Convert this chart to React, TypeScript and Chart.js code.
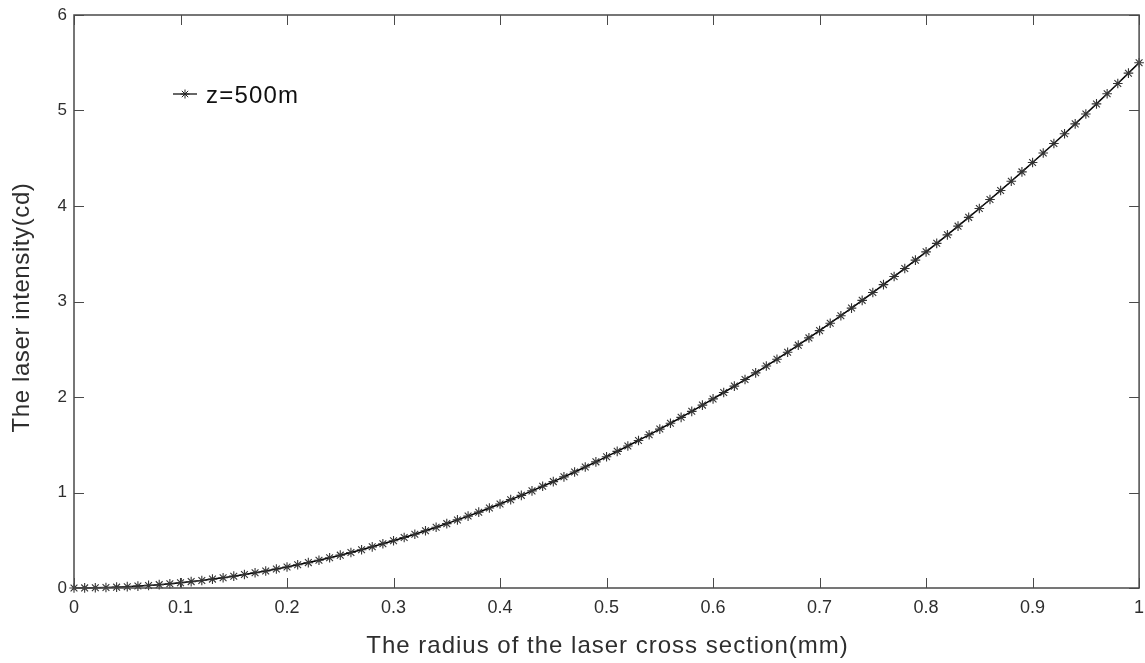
import React, { useEffect, useRef } from "react";
import { Chart, registerables } from "chart.js";
Chart.register(...registerables);

const radiusMm = [
  0, 0.01, 0.02, 0.03, 0.04, 0.05, 0.06, 0.07, 0.08, 0.09,
  0.1, 0.11, 0.12, 0.13, 0.14, 0.15, 0.16, 0.17, 0.18, 0.19,
  0.2, 0.21, 0.22, 0.23, 0.24, 0.25, 0.26, 0.27, 0.28, 0.29,
  0.3, 0.31, 0.32, 0.33, 0.34, 0.35, 0.36, 0.37, 0.38, 0.39,
  0.4, 0.41, 0.42, 0.43, 0.44, 0.45, 0.46, 0.47, 0.48, 0.49,
  0.5, 0.51, 0.52, 0.53, 0.54, 0.55, 0.56, 0.57, 0.58, 0.59,
  0.6, 0.61, 0.62, 0.63, 0.64, 0.65, 0.66, 0.67, 0.68, 0.69,
  0.7, 0.71, 0.72, 0.73, 0.74, 0.75, 0.76, 0.77, 0.78, 0.79,
  0.8, 0.81, 0.82, 0.83, 0.84, 0.85, 0.86, 0.87, 0.88, 0.89,
  0.9, 0.91, 0.92, 0.93, 0.94, 0.95, 0.96, 0.97, 0.98, 0.99,
  1.0,
];

const intensityZ500 = [
  0, 0.001, 0.002, 0.005, 0.009, 0.014, 0.02, 0.027, 0.035, 0.045,
  0.055, 0.067, 0.079, 0.093, 0.108, 0.124, 0.141, 0.159, 0.178, 0.199,
  0.22, 0.243, 0.266, 0.291, 0.317, 0.344, 0.372, 0.401, 0.431, 0.463,
  0.495, 0.529, 0.563, 0.599, 0.636, 0.674, 0.713, 0.753, 0.794, 0.837,
  0.88, 0.925, 0.97, 1.017, 1.065, 1.114, 1.164, 1.215, 1.267, 1.321,
  1.375, 1.431, 1.487, 1.545, 1.604, 1.664, 1.725, 1.787, 1.85, 1.915,
  1.98, 2.047, 2.114, 2.183, 2.253, 2.324, 2.396, 2.469, 2.543, 2.619,
  2.695, 2.773, 2.851, 2.931, 3.012, 3.094, 3.177, 3.261, 3.346, 3.433,
  3.52, 3.609, 3.698, 3.789, 3.881, 3.974, 4.068, 4.163, 4.259, 4.357,
  4.455, 4.555, 4.655, 4.757, 4.86, 4.964, 5.069, 5.175, 5.282, 5.391,
  5.5,
];

const xTicks = [0, 0.1, 0.2, 0.3, 0.4, 0.5, 0.6, 0.7, 0.8, 0.9, 1];
const yTicks = [0, 1, 2, 3, 4, 5, 6];
const legendLabel = "z=500m";
const xTitle = "The radius of the laser cross section(mm)";
const yTitle = "The laser intensity(cd)";

const FONT = "'Liberation Sans', Arial, sans-serif";
const AXIS_COLOR = "#4a4a4a";
const TEXT_COLOR = "#2e2e2e";

const framePlugin = {
  id: "matlabFrame",
  afterDraw(chart: any) {
    const { ctx, chartArea } = chart;
    const { left, right, top, bottom } = chartArea;
    const xs = chart.scales.x;
    const ys = chart.scales.y;
    ctx.save();
    ctx.strokeStyle = AXIS_COLOR;
    ctx.lineWidth = 1.5;
    ctx.strokeRect(left, top, right - left, bottom - top);
    ctx.lineWidth = 1;
    const tl = 10;
    ctx.beginPath();
    xTicks.forEach((v) => {
      const px = Math.round(xs.getPixelForValue(v)) + 0.5;
      ctx.moveTo(px, bottom);
      ctx.lineTo(px, bottom - tl);
      ctx.moveTo(px, top);
      ctx.lineTo(px, top + tl);
    });
    yTicks.forEach((v) => {
      const py = Math.round(ys.getPixelForValue(v)) + 0.5;
      ctx.moveTo(left, py);
      ctx.lineTo(left + tl, py);
      ctx.moveTo(right, py);
      ctx.lineTo(right - tl, py);
    });
    ctx.stroke();

    // axis titles
    ctx.fillStyle = TEXT_COLOR;
    ctx.font = `24px ${FONT}`;
    (ctx as any).letterSpacing = "1px";
    ctx.textAlign = "center";
    ctx.textBaseline = "alphabetic";
    ctx.fillText(xTitle, (left + right) / 2 + 1, 653);
    ctx.save();
    ctx.translate(29, (top + bottom) / 2 + 6);
    ctx.rotate(-Math.PI / 2);
    (ctx as any).letterSpacing = "0.6px";
    ctx.fillText(yTitle, 0, 0);
    ctx.restore();

    // legend
    const lx1 = 173, lx2 = 197, ly = 94;
    ctx.strokeStyle = "#000";
    ctx.lineWidth = 1.2;
    ctx.beginPath();
    ctx.moveTo(lx1, ly);
    ctx.lineTo(lx2, ly);
    ctx.stroke();
    ctx.strokeStyle = "#222";
    ctx.lineWidth = 1;
    const cx = (lx1 + lx2) / 2, r = 4.5;
    ctx.beginPath();
    for (let i = 0; i < 4; i++) {
      const a = (i * Math.PI) / 4;
      ctx.moveTo(cx - r * Math.cos(a), ly - r * Math.sin(a));
      ctx.lineTo(cx + r * Math.cos(a), ly + r * Math.sin(a));
    }
    ctx.stroke();
    ctx.fillStyle = "#111";
    ctx.font = `24px ${FONT}`;
    (ctx as any).letterSpacing = "1.2px";
    ctx.textBaseline = "alphabetic";
    ctx.textAlign = "left";
    ctx.fillText(legendLabel, 206, 103);
    ctx.restore();
  },
};

export default function App() {
  const ref = useRef<HTMLCanvasElement | null>(null);
  useEffect(() => {
    if (!ref.current) return;
    const chart = new Chart(ref.current, {
      type: "scatter",
      data: {
        datasets: [
          {
            label: legendLabel,
            data: radiusMm.map((x, i) => ({ x, y: intensityZ500[i] })),
            showLine: true,
            borderColor: "#000",
            borderWidth: 1.5,
            pointStyle: "star",
            pointRadius: 4.8,
            pointBorderWidth: 1.1,
            pointBorderColor: "#333",
            pointBackgroundColor: "#333",
            clip: false as any,
          },
        ],
      },
      options: {
        animation: false,
        responsive: true,
        maintainAspectRatio: false,
        layout: { padding: { top: 15, right: 3, left: 0, bottom: 0 } },
        plugins: { legend: { display: false }, tooltip: { enabled: false } },
        scales: {
          x: {
            type: "linear",
            min: 0,
            max: 1,
            afterFit: (s: any) => {
              s.height = 75;
              s.paddingLeft = 0;
              s.paddingRight = 0;
            },
            afterBuildTicks: (s: any) => {
              s.ticks = xTicks.map((v) => ({ value: v }));
            },
            grid: { display: false, drawTicks: false },
            border: { display: false },
            ticks: {
              padding: 9,
              color: TEXT_COLOR,
              font: { family: FONT, size: 18 },
              maxRotation: 0,
              callback: (v: any) => String(v),
            },
            title: { display: false },
          },
          y: {
            type: "linear",
            min: 0,
            max: 6,
            afterFit: (s: any) => {
              s.width = 74;
              s.paddingTop = 0;
              s.paddingBottom = 0;
            },
            afterBuildTicks: (s: any) => {
              s.ticks = yTicks.map((v) => ({ value: v }));
            },
            grid: { display: false, drawTicks: false },
            border: { display: false },
            ticks: {
              padding: 7,
              color: TEXT_COLOR,
              font: { family: FONT, size: 17 },
              callback: (v: any) => String(v),
            },
            title: { display: false },
          },
        },
      },
      plugins: [framePlugin],
    });
    return () => chart.destroy();
  }, []);
  return (
    <div style={{ position: "fixed", left: 0, top: 0, width: 1145, height: 663, background: "#fff" }}>
      <canvas ref={ref} />
    </div>
  );
}
